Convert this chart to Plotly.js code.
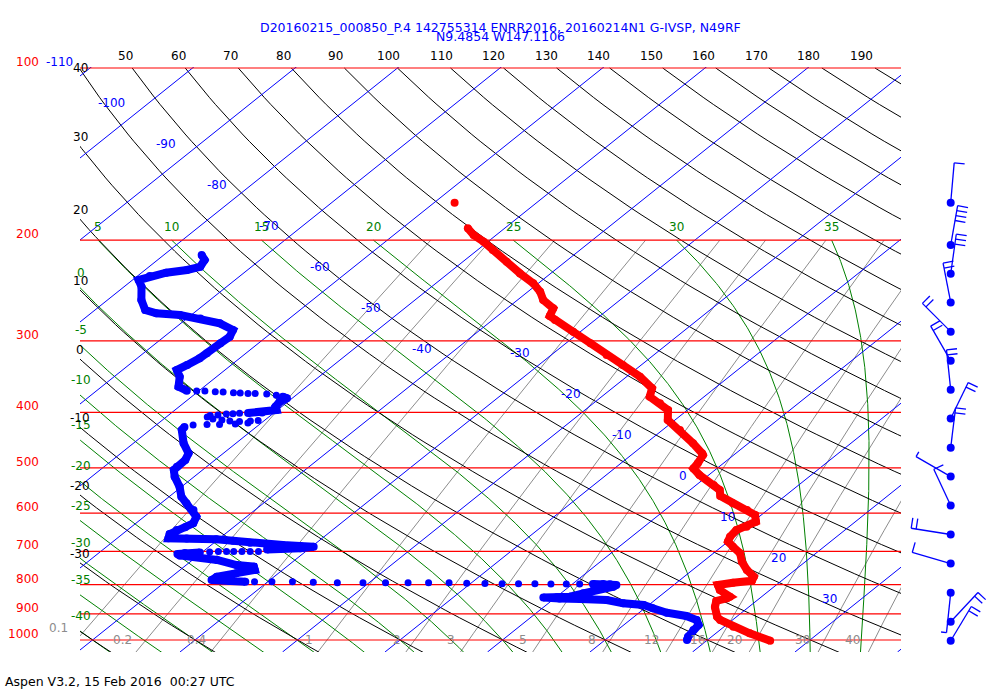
<!DOCTYPE html>
<html><head><meta charset="utf-8">
<script src="https://cdn.plot.ly/plotly-3.0.1.min.js"></script>
<style>body{margin:0;background:#fff}#chart{width:1000px;height:700px}</style>
</head><body><div id="chart"></div>
<script>
// ================= DATA =================
// Temperature profile (hPa, degC)
const tempP = [190.6,195.9,201.3,208.1,218.2,228.6,237.9,246.1,254.4,263.1,271.4,275.8,289.1,302.9,317.5,330.5,346.5,363.1,375.6,385.7,396.2,412.5,429.4,453.0,471.6,474.9,491.0,501.2,514.8,535.8,546.8,560.2,576.8,592.5,604.6,621.1,633.7,642.2,659.7,673.0,686.8,705.2,729.5,754.3,775.0,787.6,794.0,801.3,817.6,840.0,845.4,854.7,875.6,910.6,922.7,947.8,973.4,1002.8];
const tempT = [-53.6,-52.2,-50.4,-48.5,-45.7,-43.0,-40.5,-38.8,-37.5,-35.5,-34.9,-33.9,-30.7,-27.6,-24.6,-21.8,-18.7,-16.1,-15.3,-13.5,-11.9,-10.7,-8.3,-5.4,-3.3,-3.0,-2.5,-2.3,-0.9,1.7,2.9,3.7,5.8,8.0,9.4,10.3,10.0,9.4,9.6,10.0,11.1,12.6,13.8,15.3,16.8,17.1,15.5,14.3,15.1,16.9,16.8,16.1,16.7,18.1,18.8,20.9,23.3,26.2];
const isolatedTempP = [172.0];
const isolatedTempT = [-58.0];

// Dewpoint profile: densely sampled runs (null separates runs)
const dewRunP = [212.3,216.6,222.6,225.5,228.0,231.0,234.8,241.2,254.4,264.9,268.5,270.3,274.0,279.5,287.1,295.0,302.9,315.4,321.8,330.5,337.3,346.5,360.7,366.6,null,
 375.6,378.0,383.2,391.0,396.2,400.2,401.0,null,
 424.3,429.4,453.0,471.6,484.5,497.7,504.4,518.2,539.5,561.7,576.8,592.6,608.8,625.2,635.3,642.2,652.7,664.0,664.3,666.8,670.6,676.0,680.4,682.3,685.1,686.9,691.4,692.0,694.7,null,
 703.1,704.5,707.4,711.6,715.1,724.6,739.4,744.4,754.4,764.5,775.0,785.5,788.7,790.9,null,
 798.3,798.3,799.2,801.3,806.8,812.1,817.6,828.7,840.0,842.0,842.6,846.1,847.9,851.3,862.7,868.6,880.3,896.0,907.9,922.6,941.4,960.4,986.7,1000.0];
const dewRunT = [-76.3,-75.4,-75.0,-75.9,-77.6,-78.8,-79.4,-78.3,-76.7,-75.1,-73.6,-71.1,-68.7,-66.2,-64.1,-63.6,-63.7,-63.8,-63.9,-64.3,-64.7,-63.6,-62.5,-61.2,null,
 -51.1,-50.5,-50.8,-50.6,-50.1,-51.2,-52.5,null,
 -57.0,-56.9,-55.1,-53.4,-52.9,-52.9,-52.8,-51.9,-50.2,-48.8,-47.5,-46.0,-44.9,-44.4,-44.7,-45.2,-45.4,-45.0,-43.2,-40.2,-38.4,-36.5,-34.7,-33.0,-31.2,-29.8,-30.9,-32.8,-34.0,null,
 -40.2,-41.6,-42.2,-41.8,-40.0,-37.6,-35.1,-33.2,-32.7,-34.1,-35.6,-35.7,-33.8,-32.2,null,
 2.0,3.0,3.7,4.4,4.3,3.5,2.8,2.2,1.3,0.1,-1.2,0.5,2.6,5.3,7.3,9.5,10.8,12.7,15.0,16.5,17.3,17.4,17.7,18.0];
// Dewpoint: sparse samples (rapid changes)
const dewDotP = [367.0,367.0,368.1,368.5,369.6,370.1,370.6,370.6,371.5,373.5,
 401.5,402.1,402.6,404.3,405.0,407.5,410.9,412.5,414.2,415.0,414.2,413.4,417.5,419.3,419.8,420.1,420.9,
 700.3,700.6,700.6,700.6,700.6,700.6,701.7,
 790.9,790.9,790.9,792.7,794.0,794.0,794.0,794.0,794.0,794.0,796.0,796.6,797.3,797.3,797.3,798.3,798.3,798.3];
const dewDotT = [-60.2,-59.4,-58.3,-57.5,-56.4,-55.7,-54.9,-54.2,-53.0,-51.9,
 -53.3,-53.9,-54.5,-55.2,-55.9,-56.0,-55.2,-54.2,-53.3,-52.3,-51.3,-50.6,-51.3,-52.4,-53.9,-55.1,-56.4,
 -34.6,-35.4,-36.2,-37.0,-37.7,-38.5,-39.3,
 -31.3,-29.6,-27.6,-25.5,-23.1,-20.6,-18.4,-16.2,-14.2,-12.2,-10.4,-8.6,-6.9,-5.3,-3.7,-2.1,-0.6,0.7];

// Winds (hPa, deg from, knots)
const windP   = [172,204,229,257,289,325,365,410,461,518,582,654,735,827,929,1003];
const windDir = [5,10,8,349,315,330,354,26,7,300,335,279,286,186,43,31];
const windSpd = [10,40,30,20,20,20,20,20,20,5,10,20,10,5,20,20];

// Background line sets / labels
const pressureLevels = [100,200,300,400,500,600,700,800,900,1000];
const isotherms = [-110,-100,-90,-80,-70,-60,-50,-40,-30,-20,-10,0,10,20,30,40];
const dryAdiabats = [-40,-30,-20,-10,0,10,20,30,40,50,60,70,80,90,100,110,120,130,140,150,160,170,180,190];
const moistAdiabats = [-40,-35,-30,-25,-20,-15,-10,-5,0,5,10,15,20,25,30,35];
const mixingRatios = [0.1,0.2,0.4,1,2,3,5,8,12,16,20,30,40];
const titleLine1 = 'D20160215_000850_P.4 142755314 ENRR2016, 20160214N1 G-IVSP, N49RF';
const titleLine2 = 'N9.4854 W147.1106';
const footer = 'Aspen V3.2, 15 Feb 2016  00:27 UTC';

// ================= GEOMETRY =================
const W = 1000, H = 700;
const PL = 80, PR = 990, PT = 67, PB = 652;      // plot area (pixels)
const MAIN_R = 901, BARB_L = 905;
const X0PIX = 502.5, PX_PER_DEG = 10.25, PX_PER_DEC = 572, Y100 = 68;
const SKEW = 715 / PX_PER_DEG;                     // deg per decade
const KAPPA = 0.286;
const skewX = (T, p) => T + SKEW * Math.log10(1000 / p);
const pixX = X => X0PIX + PX_PER_DEG * X;
const pixY = p => Y100 + PX_PER_DEC * (Math.log10(p) - 2);
const pAtPix = y => Math.pow(10, 2 + (y - Y100) / PX_PER_DEC);
const XL = (PL - X0PIX) / PX_PER_DEG, XR = (MAIN_R - X0PIX) / PX_PER_DEG;
const paperX = px => (px - PL) / (PR - PL);
const paperY = py => (PB - py) / (PB - PT);
const P_BOT = pAtPix(PB), P_TOP = pAtPix(PT);

const FONT = 'DejaVu Sans, Verdana, sans-serif';
const traces = [];
const ann = [];
function addLine(xs, ys, color, width) {
  traces.push({type:'scatter', mode:'lines', x:xs, y:ys, xaxis:'x', yaxis:'y',
    line:{color:color, width:width}, hoverinfo:'skip', showlegend:false});
}
// all labels placed in pixel space -> paper coordinates
function label(text, px, py, anchor, color, size) {
  ann.push({text:text, showarrow:false, xref:'paper', yref:'paper', x:paperX(px), y:paperY(py),
    xanchor:anchor || 'center', yanchor:'middle', font:{family:FONT, size:size || 12, color:color || '#000'}});
}

// ---- mixing ratio lines ----
function tdFromW(w, p) {
  const e = w * p / (622 + w);
  const a = Math.log(e / 6.112);
  return 243.5 * a / (17.67 - a);
}
mixingRatios.forEach(w => {
  const xs = [], ys = [];
  for (let i = 0; i <= 60; i++) {
    const p = 200 * Math.pow(1060 / 200, i / 60);
    xs.push(skewX(tdFromW(w, p), p)); ys.push(p);
  }
  addLine(xs, ys, '#8c8c8c', 1);
  const x1000 = skewX(tdFromW(w, 1000), 1000);
  if (x1000 >= XL) {
    label(String(w), pixX(x1000) - 12, pixY(1000), 'right', '#8c8c8c');
  } else {
    let lo = 200, hi = 1000;
    for (let k = 0; k < 40; k++) { const m = (lo + hi) / 2; if (skewX(tdFromW(w, m), m) > XL) lo = m; else hi = m; }
    label(String(w), PL - 10, pixY(lo) - 8, 'right', '#8c8c8c');
  }
});

// ---- moist adiabats ----
function moistCurve(thw) {
  const f = (p, T) => {
    const t = T - 273.15;
    const e = 6.112 * Math.exp(17.67 * t / (t + 243.5));
    const rs = 0.622 * e / (p - e);
    return (287.04 * T + 2.501e6 * rs) / (p * (1005.7 + 2.501e6 * 2.501e6 * rs * 0.622 / (287.04 * T * T)));
  };
  const integ = (pEnd, dp) => {
    let p = 1000, T = thw + 273.15; const out = [[p, T]];
    const n = Math.round((pEnd - 1000) / dp);
    for (let i = 0; i < n; i++) {
      const h = dp;
      const k1 = f(p, T), k2 = f(p + h / 2, T + h / 2 * k1), k3 = f(p + h / 2, T + h / 2 * k2), k4 = f(p + h, T + h * k3);
      T += h / 6 * (k1 + 2 * k2 + 2 * k3 + k4); p += h; out.push([p, T]);
    }
    return out;
  };
  return integ(200, -2).reverse().concat(integ(1060, 2).slice(1));
}
moistAdiabats.forEach(thw => {
  const pts = moistCurve(thw);
  const xs = pts.map(d => skewX(d[1] - 273.15, d[0])), ys = pts.map(d => d[0]);
  addLine(xs, ys, '#008000', 1);
  if (xs[0] >= XL) {
    label(String(thw), pixX(xs[0]), pixY(200) - 13, 'center', '#008000');
  } else {
    let pc = null;
    for (let i = 1; i < xs.length; i++) {
      if (xs[i - 1] < XL && xs[i] >= XL) { const t = (XL - xs[i - 1]) / (xs[i] - xs[i - 1]); pc = ys[i - 1] + t * (ys[i] - ys[i - 1]); break; }
    }
    if (pc) label(String(thw), 81, pixY(pc) - 15, 'center', '#008000');
  }
});

// ---- dry adiabats ----
const dryT = (th, p) => (th + 273.15) * Math.pow(p / 1000, KAPPA) - 273.15;
dryAdiabats.forEach(th => {
  const xs = [], ys = [];
  for (let i = 0; i <= 80; i++) {
    const p = 100 * Math.pow(10.6, i / 80);
    xs.push(skewX(dryT(th, p), p)); ys.push(p);
  }
  addLine(xs, ys, '#000000', 1);
  if (skewX(dryT(th, 100), 100) > XL + 0.5) {
    const pl = pAtPix(59.2);
    label(String(th), pixX(skewX(dryT(th, pl), pl)), 56, 'center');
  } else if (th >= -30) {
    let lo = 100, hi = 1050;
    for (let k = 0; k < 50; k++) { const m = (lo + hi) / 2; if (skewX(dryT(th, m), m) < XL) lo = m; else hi = m; }
    label(String(th), 80, Math.max(Y100, pixY(lo) - 9), 'center');
  }
});

// ---- isotherms ----
isotherms.forEach(T => {
  addLine([skewX(T, P_BOT), skewX(T, 95)], [P_BOT, 95], '#0000ff', 1);
  if (T <= 30) {
    const yl = T <= -40 ? 62 + 4.1 * (T + 110) : 353 + 4.1 * (T + 30);
    const pl = pAtPix(yl);
    label(String(T), pixX(skewX(T, pl)) - (T === 0 ? 19 : 22), yl, 'right', '#0000ff');
  }
});

// ---- pressure lines ----
pressureLevels.forEach(p => {
  addLine([XL, XR], [p, p], '#ff0000', 1.2);
  label(String(p), 41, pixY(p) - 6, 'right', '#ff0000');
});

// ---- soundings ----
traces.push({type:'scatter', mode:'lines+markers', x: tempP.map((p, i) => skewX(tempT[i], p)), y: tempP,
  line:{color:'#ff0000', width:8}, marker:{color:'#ff0000', size:8}, hoverinfo:'skip', showlegend:false});
traces.push({type:'scatter', mode:'markers', x: isolatedTempP.map((p, i) => skewX(isolatedTempT[i], p)), y: isolatedTempP,
  marker:{color:'#ff0000', size:8}, hoverinfo:'skip', showlegend:false});
traces.push({type:'scatter', mode:'lines+markers', x: dewRunP.map((p, i) => p === null ? null : skewX(dewRunT[i], p)), y: dewRunP,
  line:{color:'#0000ff', width:8}, marker:{color:'#0000ff', size:8}, connectgaps:false, hoverinfo:'skip', showlegend:false});
traces.push({type:'scatter', mode:'markers', x: dewDotP.map((p, i) => skewX(dewDotT[i], p)), y: dewDotP,
  marker:{color:'#0000ff', size:7}, hoverinfo:'skip', showlegend:false});

// ---- wind barbs (pixel-space subplot) ----
const BX = 950.7, STAFF = 40, FULL = 10.5, HALF = 5.5, SPACING = 5;
const bx = [], by = [];
windP.forEach((p, i) => {
  const d = windDir[i] * Math.PI / 180;
  const ux = Math.sin(d), uy = -Math.cos(d);      // outward (screen coords, y down)
  const rx = -uy, ry = ux;                         // right-hand side
  const y0 = pixY(p);
  bx.push(BX, BX + STAFF * ux, null); by.push(y0, y0 + STAFF * uy, null);
  let pos = STAFF;
  const fulls = Math.floor(windSpd[i] / 10), half = (windSpd[i] % 10) >= 5;
  for (let k = 0; k < fulls; k++) {
    const sx = BX + pos * ux, sy = y0 + pos * uy;
    bx.push(sx, sx + FULL * rx, null); by.push(sy, sy + FULL * ry, null);
    pos -= SPACING;
  }
  if (half) {
    const sx = BX + pos * ux, sy = y0 + pos * uy;
    bx.push(sx, sx + HALF * rx, null); by.push(sy, sy + HALF * ry, null);
  }
});
traces.push({type:'scatter', mode:'lines', x: bx, y: by, xaxis:'x2', yaxis:'y2', line:{color:'#0000ff', width:1.3},
  hoverinfo:'skip', showlegend:false, cliponaxis:false});
traces.push({type:'scatter', mode:'markers', x: windP.map(() => BX), y: windP.map(pixY), xaxis:'x2', yaxis:'y2',
  marker:{color:'#0000ff', size:8}, hoverinfo:'skip', showlegend:false, cliponaxis:false});

// ---- titles ----
label(titleLine1, 500, 27.5, 'center', '#0000ff', 12.5);
label(titleLine2, 500, 36.5, 'center', '#0000ff', 12.5);
label(footer, 3, 681, 'left', '#000', 12.5);

const hidden = {visible:false, showgrid:false, zeroline:false, fixedrange:true};
const layout = {
  width: W, height: H, paper_bgcolor:'#fff', plot_bgcolor:'rgba(0,0,0,0)',
  margin:{l:PL, r:W - PR, t:PT, b:H - PB, pad:0},
  showlegend:false,
  xaxis: Object.assign({domain:[0, (MAIN_R - PL) / (PR - PL)], range:[XL, XR], anchor:'y'}, hidden),
  yaxis: Object.assign({type:'log', domain:[0, 1], range:[Math.log10(P_BOT), Math.log10(P_TOP)], anchor:'x'}, hidden),
  xaxis2: Object.assign({domain:[(BARB_L - PL) / (PR - PL), 1], range:[BARB_L, PR], anchor:'y2'}, hidden),
  yaxis2: Object.assign({domain:[0, 1], range:[PB, PT], anchor:'x2'}, hidden),
  annotations: ann
};
Plotly.newPlot('chart', traces, layout, {staticPlot:true, displayModeBar:false});
</script></body></html>
